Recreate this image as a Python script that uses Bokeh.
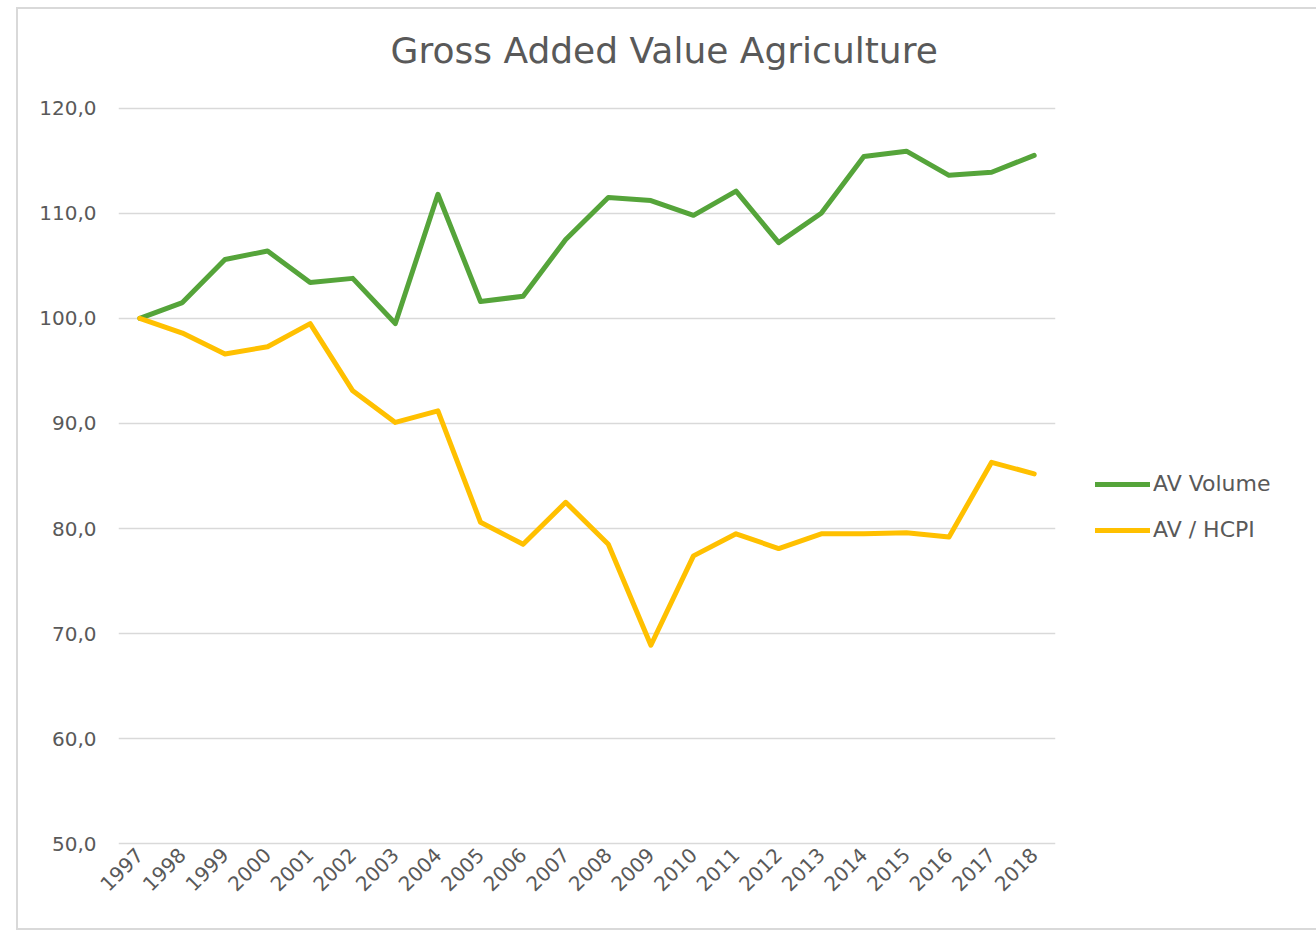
from math import pi
from bokeh.plotting import figure
from bokeh.models import FactorRange, Range1d, FixedTicker, Legend, LegendItem, Title
from bokeh.embed import file_html
from bokeh.resources import INLINE

years = [str(y) for y in range(1997, 2019)]
av_volume = [100.0, 101.5, 105.6, 106.4, 103.4, 103.8, 99.5, 111.8, 101.6, 102.1, 107.5,
             111.5, 111.2, 109.8, 112.1, 107.2, 110.0, 115.4, 115.9, 113.6, 113.9, 115.5]
av_hcpi = [100.0, 98.6, 96.6, 97.3, 99.5, 93.1, 90.1, 91.2, 80.6, 78.5, 82.5,
           78.5, 68.9, 77.4, 79.5, 78.1, 79.5, 79.5, 79.6, 79.2, 86.3, 85.2]
series_names = ["AV Volume", "AV / HCPI"]
series_colors = ["#55A43A", "#FFC000"]
y_ticks = [50, 60, 70, 80, 90, 100, 110, 120]
y_tick_labels = ["50,0", "60,0", "70,0", "80,0", "90,0", "100,0", "110,0", "120,0"]
title_text = "Gross Added Value Agriculture"

FONT = "DejaVu Sans"
TXT = "#595959"

p = figure(x_range=FactorRange(*years), y_range=Range1d(49.85, 120.15),
           frame_width=937, frame_height=739, output_backend="svg", toolbar_location=None,
           min_border_left=100, min_border_right=255, min_border_top=97,
           min_border_bottom=83, margin=(7, 0, 0, 16))
p.styles = {"border": "2px solid #d9d9d9"}
p.outline_line_color = None
p.background_fill_color = "white"
p.border_fill_color = "white"

r1 = p.line(x=years, y=av_volume, line_color=series_colors[0], line_width=5,
            line_join="round", line_cap="round")
r2 = p.line(x=years, y=av_hcpi, line_color=series_colors[1], line_width=5,
            line_join="round", line_cap="round")

p.xgrid.visible = False
p.ygrid.grid_line_color = "#d9d9d9"
p.ygrid.grid_line_width = 1.5

p.yaxis.ticker = FixedTicker(ticks=y_ticks)
p.yaxis.major_label_overrides = dict(zip(y_ticks, y_tick_labels))
for ax in (p.xaxis, p.yaxis):
    ax.axis_line_color = None
    ax.major_tick_line_color = None
    ax.minor_tick_line_color = None
    ax.major_tick_out = 0
    ax.major_label_text_font = FONT
    ax.major_label_text_font_size = "20px"
    ax.major_label_text_color = TXT
p.yaxis.major_label_standoff = 22
p.xaxis.major_label_standoff = 6
p.xaxis.major_label_orientation = pi / 4

legend = Legend(items=[LegendItem(label=series_names[0], renderers=[r1]),
                       LegendItem(label=series_names[1], renderers=[r2])],
                location=(40, 303), glyph_width=55, glyph_height=20, label_height=20,
                spacing=21, padding=0, margin=0, label_standoff=3,
                label_text_font=FONT, label_text_font_size="22px",
                label_text_color=TXT, border_line_color=None, background_fill_alpha=0)
p.add_layout(legend, "right")

# empty spacer between the title and the plot area
spacer = Title(text=" ", text_font_size="1px", standoff=28)
p.add_layout(spacer, "above")

p.title.text = title_text
p.title.align = "left"
p.title.offset = 272
p.title.standoff = 10
p.title.text_font = FONT
p.title.text_font_size = "36px"
p.title.text_font_style = "normal"
p.title.text_color = TXT

open("out.html", "w").write(file_html(p, INLINE))
